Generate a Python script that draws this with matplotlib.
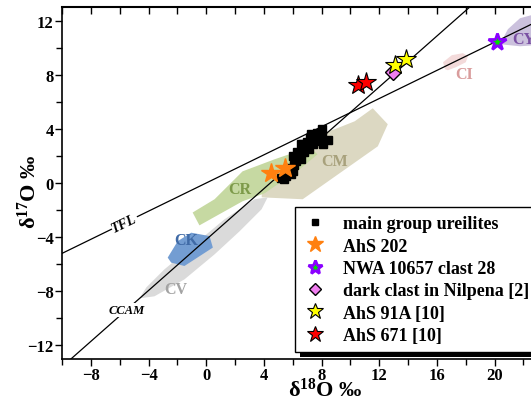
import matplotlib
matplotlib.use("Agg")
import matplotlib.pyplot as plt
from matplotlib.patches import Polygon, Rectangle
from matplotlib.ticker import MultipleLocator

plt.rcParams['font.family'] = ['Liberation Serif', 'DejaVu Serif']
plt.rcParams['font.weight'] = 'bold'
plt.rcParams['mathtext.fontset'] = 'custom'
plt.rcParams['mathtext.rm'] = 'Liberation Serif:bold'
plt.rcParams['mathtext.bf'] = 'Liberation Serif:bold'
plt.rcParams['mathtext.default'] = 'bf'

# reference lines
tfl_slope, tfl_icpt = 0.52, 0.0
ccam_slope, ccam_icpt = 0.94, -4.18
line_x = [-12, 26]

# chondrite fields (d18O, d17O)
cm_x = [3.85, 6.69, 11.9, 12.59, 11.55, 10.3, 8.91, 7.73, 6.48, 5.09, 3.85]
cm_y = [-1.06, -1.20, 2.71, 4.34, 5.52, 4.56, 3.97, 3.60, 2.49, 0.64, -0.47]
cv_x = [-4.63, -3.59, -1.51, 0.58, 2.31, 3.84, 4.26, 3.35, 1.27, -0.81, -2.90, -4.15]
cv_y = [-8.52, -8.37, -7.12, -5.27, -3.57, -1.94, -1.06, -1.20, -2.68, -4.53, -6.38, -7.71]
cr_x = [-0.94, 0.58, 2.52, 4.74, 7.17, 7.72, 6.48, 4.05, 2.52, -0.47]
cr_y = [-2.18, -1.20, 0.86, 1.75, 2.64, 2.12, 1.01, -0.76, -1.35, -3.13]
ck_x = [-2.67, -1.97, -1.04, 0.23, 0.46, -1.51, -2.43]
ck_y = [-5.51, -4.29, -3.67, -3.92, -4.77, -6.13, -5.88]
ci_x = [16.57, 16.42, 17.03, 17.8, 18.15, 18.0, 17.31, 16.76]
ci_y = [8.40, 8.92, 9.44, 9.59, 9.36, 8.92, 8.55, 8.33]
cy_x = [20.37, 20.92, 21.76, 22.8, 23.84, 23.84, 21.76]
cy_y = [10.25, 11.36, 12.17, 12.47, 12.10, 10.25, 10.1]

field_names = ['CM', 'CV', 'CR', 'CK', 'CI', 'CY']
field_x = [8.9, -2.08, 2.33, -1.39, 17.9, 21.99]
field_y = [1.63, -7.8, -0.46, -4.21, 8.03, 10.67]

# samples
mg_x = [5.2, 5.5, 5.4, 5.9, 5.7, 6.1, 6.6, 6.2, 6.0, 6.3, 6.5, 6.6, 6.9, 7.0, 7.2, 7.3,
        7.5, 7.6, 7.4, 7.8, 8.0, 8.1, 8.45, 8.0, 7.1, 6.8, 6.3, 5.8, 6.0, 7.7, 7.9, 6.7]
mg_y = [0.4, 0.5, 0.3, 0.65, 0.9, 1.3, 1.8, 1.6, 2.0, 2.3, 2.2, 2.85, 2.6, 3.0, 3.3, 3.6,
        3.4, 3.1, 2.9, 3.2, 3.4, 2.9, 3.15, 4.0, 2.5, 2.3, 1.9, 1.1, 0.9, 3.7, 3.5, 2.9]
ahs202_x = [4.51, 5.44]
ahs202_y = [0.77, 1.14]
nwa_x = [20.14]
nwa_y = [10.38]
nil_x = [12.96]
nil_y = [8.2]
ahs91_x = [13.08, 13.82]
ahs91_y = [8.7, 9.19]
ahs671_x = [10.53, 11.06]
ahs671_y = [7.22, 7.47]

fig = plt.figure(figsize=(5.31, 4.02), dpi=100)
# the original plot runs past the right edge of the picture
ax = fig.add_axes([62/531, 42/402, (537.9-62)/531, 352/402])
ax.set_xlim(-10, 23)
ax.set_ylim(-13, 13)

fields = [(cm_x, cm_y, '#dcd8c2'), (cv_x, cv_y, '#dadada'), (cr_x, cr_y, '#c6d9a2'),
          (ck_x, ck_y, '#739dd2'), (ci_x, ci_y, '#f3dada'), (cy_x, cy_y, '#cbc1dd')]
for fx, fy, c in fields:
    ax.add_patch(Polygon(list(zip(fx, fy)), closed=True, facecolor=c, edgecolor='none', zorder=1))

label_colors = ['#a8a17c', '#a3a3a3', '#7d9a4a', '#3f6aa6', '#d99c9c', '#7a50a3']
for name, x, y, c in zip(field_names, field_x, field_y, label_colors):
    ax.text(x, y, name, color=c, fontsize=11.5, fontweight='bold', ha='center', va='center', zorder=2)

ax.plot(line_x, [tfl_slope * v + tfl_icpt for v in line_x], color='black', lw=0.9, zorder=2)
ax.plot(line_x, [ccam_slope * v + ccam_icpt for v in line_x], color='black', lw=0.9, zorder=2)
ax.text(-5.67, -2.95, 'TFL', rotation=26, style='italic', fontsize=10, fontweight='bold',
        ha='center', va='center', zorder=2.5,
        bbox=dict(facecolor='white', edgecolor='none', pad=0.5))
ax.text(-5.53, -9.38, 'CCAM', style='italic', fontsize=9, fontweight='bold',
        ha='center', va='center', zorder=2.5,
        bbox=dict(facecolor='white', edgecolor='none', pad=0.5))

ax.plot(mg_x, mg_y, 's', color='black', ms=5.5, ls='none', zorder=3, label='main group ureilites')
ax.plot(ahs202_x, ahs202_y, '*', color='#ff8010', mec='#ff8010', ms=15, ls='none', zorder=4, label='AhS 202')
ax.plot(nwa_x, nwa_y, '*', mfc='#00e000', mec='#8a00ff', mew=2, ms=13, ls='none', zorder=4,
        label='NWA 10657 clast 28')
ax.plot(nil_x, nil_y, 'D', mfc='#f07ef0', mec='black', mew=1, ms=8, ls='none', zorder=3.5,
        label='dark clast in Nilpena [2]')
ax.plot(ahs91_x, ahs91_y, '*', mfc='#ffff00', mec='black', mew=0.8, ms=15, ls='none', zorder=4,
        label='AhS 91A [10]')
ax.plot(ahs671_x, ahs671_y, '*', mfc='#ff0000', mec='black', mew=0.8, ms=15, ls='none', zorder=4,
        label='AhS 671 [10]')

ax.xaxis.set_major_locator(MultipleLocator(4))
ax.xaxis.set_minor_locator(MultipleLocator(2))
ax.yaxis.set_major_locator(MultipleLocator(4))
ax.yaxis.set_minor_locator(MultipleLocator(2))
ax.tick_params(which='both', direction='out', top=False, right=False, width=1)
ax.tick_params(which='major', length=5, labelsize=12, pad=1)
ax.tick_params(which='minor', length=4)
for lab in ax.get_xticklabels() + ax.get_yticklabels():
    lab.set_fontweight('bold')
for s in ax.spines.values():
    s.set_linewidth(1.2)

# inward ticks along the top edge
sec = ax.secondary_xaxis('top')
sec.xaxis.set_major_locator(MultipleLocator(2))
sec.tick_params(direction='in', length=5, width=1, labeltop=False)
sec.spines['top'].set_linewidth(1.5)

leg = ax.legend(loc='upper left', bbox_to_anchor=(295/531, 1 - 208/402),
                bbox_transform=fig.transFigure, borderaxespad=0, fancybox=False,
                framealpha=1, edgecolor='black', fontsize=13, labelspacing=0.3,
                handlelength=1.3, handletextpad=0.9, borderpad=0.45, markerscale=0.8)
leg.get_frame().set_linewidth(1)
leg.set_zorder(10)
for t in leg.get_texts():
    t.set_fontweight('bold')

# solid black drop shadow under the legend box
fig.canvas.draw()
lb = leg.get_window_extent()
fig.add_artist(Rectangle(((lb.x0 + 5) / 531, (lb.y0 - 5) / 402), 1, 5 / 402,
                         transform=fig.transFigure, facecolor='black', edgecolor='none', zorder=5))

fig.text(325/531, 1 - 390/402, 'δ$^{18}$O ‰', fontsize=16, fontweight='bold', ha='center', va='center')
fig.text(29/531, 1 - 192/402, 'δ$^{17}$O ‰', fontsize=16, fontweight='bold', ha='center', va='center',
         rotation=90)

fig.savefig('out.png', dpi=100)
